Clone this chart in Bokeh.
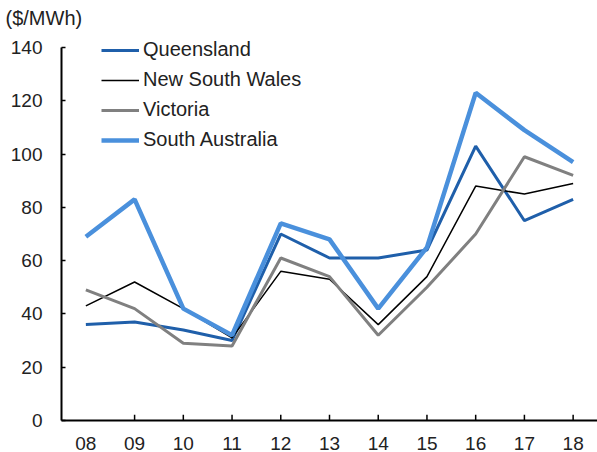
from bokeh.plotting import figure
from bokeh.models import Legend, LegendItem, Range1d, FactorRange, FixedTicker
from bokeh.embed import file_html
from bokeh.resources import INLINE

years = ["08", "09", "10", "11", "12", "13", "14", "15", "16", "17", "18"]
queensland = [36, 37, 34, 30, 70, 61, 61, 64, 103, 75, 83]
new_south_wales = [43, 52, 42, 31, 56, 53, 36, 54, 88, 85, 89]
victoria = [49, 42, 29, 28, 61, 54, 32, 50, 70, 99, 92]
south_australia = [69, 83, 42, 32, 74, 68, 42, 65, 123, 109, 97]
y_ticks = [0, 20, 40, 60, 80, 100, 120, 140]
unit_label = "($/MWh)"

FONT = "Liberation Sans"
FS = "19px"
FS_TXT = "20px"
TXT = "#222222"

p = figure(width=597, height=452, x_range=FactorRange(*years), y_range=Range1d(0, 146.4),
           output_backend="svg", toolbar_location=None,
           min_border_left=61, min_border_right=0, min_border_top=30, min_border_bottom=31,
           title=unit_label)

p.title.text_font = FONT
p.title.text_font_size = FS_TXT
p.title.text_font_style = "normal"
p.title.text_color = TXT
p.title.align = "left"
p.title.offset = -56
p.title.standoff = 3

p.outline_line_color = None
p.grid.visible = False
p.background_fill_color = "white"
p.border_fill_color = "white"

# y axis
p.yaxis.ticker = FixedTicker(ticks=y_ticks)
p.yaxis.bounds = (0, 140)
p.yaxis.axis_line_color = "black"
p.yaxis.axis_line_width = 2
p.yaxis.major_tick_in = 4
p.yaxis.major_tick_out = 0
p.yaxis.major_tick_line_width = 1.5
p.yaxis.minor_tick_line_color = None
p.yaxis.major_label_text_font = FONT
p.yaxis.major_label_text_font_size = FS
p.yaxis.major_label_text_color = TXT
p.yaxis.major_label_standoff = 19

# x axis
p.xaxis.axis_line_color = "black"
p.xaxis.axis_line_width = 2
p.xaxis.major_tick_line_color = None
p.xaxis.major_label_text_font = FONT
p.xaxis.major_label_text_font_size = FS
p.xaxis.major_label_text_color = TXT
p.xaxis.major_label_standoff = 10

# separator ticks between categories (drawn inside, upward)
seps = [(years[i], 1.0) for i in range(len(years) - 1)]
p.segment(x0=seps, y0=[0] * len(seps), x1=seps, y1=[2.2] * len(seps),
          line_color="black", line_width=1.5)

r_q = p.line(years, queensland, line_color="#1F5FAA", line_width=3)
r_n = p.line(years, new_south_wales, line_color="black", line_width=1.5)
r_v = p.line(years, victoria, line_color="#808080", line_width=3)
r_s = p.line(years, south_australia, line_color="#4A90DC", line_width=4.5)

legend = Legend(items=[
    LegendItem(label="Queensland", renderers=[r_q]),
    LegendItem(label="New South Wales", renderers=[r_n]),
    LegendItem(label="Victoria", renderers=[r_v]),
    LegendItem(label="South Australia", renderers=[r_s]),
], location=(40, 269), padding=0, margin=0, spacing=7,
    glyph_width=38, glyph_height=20, label_height=20, label_standoff=4,
    label_text_font=FONT, label_text_font_size=FS_TXT, label_text_color=TXT,
    border_line_color=None, background_fill_alpha=0)
p.add_layout(legend, "center")

open("out.html", "w").write(file_html(p, INLINE))
